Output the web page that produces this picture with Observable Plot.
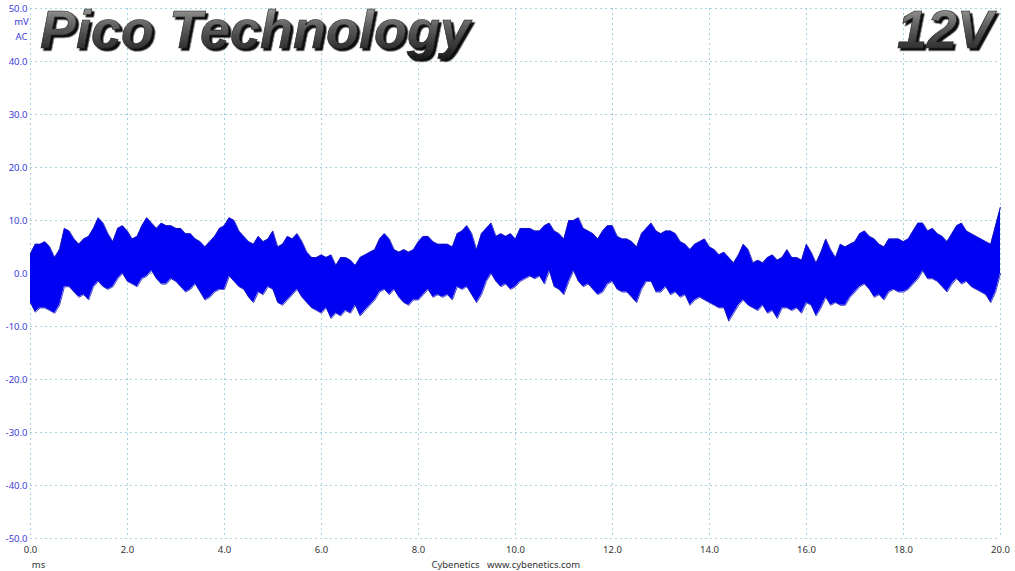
<!DOCTYPE html>
<html><head><meta charset="utf-8">
<script src="https://cdn.jsdelivr.net/npm/d3@7"></script>
<script src="https://cdn.jsdelivr.net/npm/@observablehq/plot@0.6"></script>
<style>
body{margin:0;background:#fff}
#wrap{position:relative;width:1015px;height:571px}
</style></head><body><div id="wrap"></div>
<script>
const titleText = "Pico Technology";
const railText = "12V";
const yUnitLines = ["mV", "AC"];
const xUnit = "ms";
const footer = "Cybenetics   www.cybenetics.com";
const xTicks = [0,2,4,6,8,10,12,14,16,18,20];
const yTicks = [-50,-40,-30,-20,-10,0,10,20,30,40,50];
const sampleStepMs = 0.1;
const upper = [
3.7,5.5,5.5,6.0,5.0,3.0,4.5,8.5,8.0,6.5, 5.5,6.5,7.0,8.5,10.5,9.5,7.5,6.0,8.5,9.0,
8.0,6.5,7.0,9.0,10.5,9.5,8.5,9.5,9.0,9.0, 8.5,8.5,7.5,7.5,6.5,6.0,5.0,6.0,7.0,8.5,
9.0,
10.5,10.0,8.0,7.0,6.0,5.5,7.0,6.0,6.5,8.0, 5.0,5.5,7.0,6.5,7.5,6.0,4.0,3.0,3.0,3.5,
3.0,3.5,1.5,3.0,3.0,2.5,1.5,3.0,3.5,4.0, 4.5,6.5,7.5,6.5,4.5,4.0,4.5,4.0,4.5,6.0,
7.0,7.0,6.0,5.5,5.5,5.5,5.0,7.5,8.0,9.0, 7.5,4.5,7.5,8.5,9.5,7.0,7.5,7.0,7.5,6.5,
8.5,8.5,8.5,8.0,8.0,9.0,9.5,8.0,7.5,6.5, 10.0,10.0,10.5,8.5,8.0,7.5,6.5,8.0,9.0,9.0,
7.0,6.5,6.5,6.0,5.0,7.5,8.5,9.5,8.0,7.5, 8.0,8.0,7.5,6.0,5.5,4.5,5.5,6.0,6.5,5.0,
4.5,3.5,4.0,3.0,2.0,3.5,5.5,4.5,2.0,2.5, 2.0,3.0,3.5,2.5,3.0,4.5,3.0,3.0,2.5,5.5,
4.0,2.0,4.0,6.5,4.5,3.0,5.5,5.0,5.5,6.0, 7.5,8.0,7.0,6.5,5.5,5.0,6.5,6.5,6.5,6.0,
6.5,8.0,9.5,9.5,8.0,8.5,7.5,7.0,6.0,7.5, 9.0,9.5,8.0,7.5,7.0,6.5,6.0,5.5,9.0,12.5
];
const lower = [
-5.5,-7.3,-6.5,-6.5,-7.0,-7.5,-6.0,-2.5,-2.5,-3.5, -4.5,-4.0,-5.0,-2.5,-1.5,-2.5,-3.0,-2.5,-1.0,0,
-1.5,-2.0,-2.5,-1.0,-0.5,0.5,-1.0,-2.0,-2.0,-1.0, -1.5,-2.5,-3.5,-3.0,-2.0,-3.5,-5.0,-4.5,-3.5,-3.0,
-3.0,
-0.5,-1.5,-2.5,-3.0,-4.5,-5.5,-3.5,-4.0,-2.5,-3.0, -5.5,-6.0,-5.0,-4.0,-3.0,-4.5,-5.5,-6.5,-7.0,-7.5,
-6.5,-8.5,-7.5,-8.0,-7.0,-7.5,-6.0,-8.0,-7.0,-6.0, -5.0,-3.5,-3.0,-4.0,-3.0,-4.5,-5.5,-6.0,-5.0,-5.0,
-4.0,-3.0,-4.5,-4.0,-4.5,-4.0,-5.0,-2.5,-3.0,-2.5, -4.0,-5.5,-4.0,-1.5,0,-1.5,-2.5,-2.0,-3.0,-2.5,
-1.5,-1.0,-0.5,-1.0,-0.5,-2.0,0.5,-2.5,-3.0,-4.0, -1.5,0.5,-1.5,-2.5,-2.0,-3.0,-4.0,-3.5,-2.0,-1.5,
-3.0,-3.5,-3.5,-4.5,-5.5,-3.0,-1.5,-1.5,-3.5,-3.5, -2.5,-4.0,-3.5,-4.5,-4.0,-6.0,-5.0,-4.5,-5.0,-5.5,
-6.0,-6.5,-6.5,-9.0,-7.5,-6.0,-5.0,-6.0,-6.5,-7.0, -6.0,-7.5,-7.0,-8.5,-6.5,-6.5,-7.0,-6.5,-7.5,-5.5,
-6.0,-8.0,-6.5,-4.5,-6.0,-5.5,-6.0,-6.0,-4.5,-3.5, -2.5,-2.0,-3.0,-4.5,-4.0,-5.0,-3.5,-3.0,-3.5,-3.5,
-3.0,-2.0,-1.0,0.5,-1.0,-1.0,-1.5,-2.5,-3.5,-2.0, -1.0,-2.0,-1.5,-2.5,-3.0,-3.5,-4.0,-5.5,-3.5,0
];

const data = upper.map((hi, i) => ({t: i * sampleStepMs, hi, lo: lower[i]}));
const font = "'Noto Sans', 'DejaVu Sans', sans-serif";
const gridColor = "#a6d2df";
const blueText = "#3a3ad8";

const chart = Plot.plot({
  width: 1015, height: 571,
  marginLeft: 30, marginRight: 15, marginTop: 8, marginBottom: 33,
  style: {fontFamily: font, fontSize: "9.5px", background: "#fff"},
  x: {domain: [0, 20]},
  y: {domain: [-50, 50]},
  marks: [
    Plot.gridX(xTicks, {stroke: gridColor, strokeOpacity: 1, strokeDasharray: "2,3"}),
    Plot.gridY(yTicks, {stroke: gridColor, strokeOpacity: 1, strokeDasharray: "2,3"}),
    Plot.areaY(data, {x: "t", y1: "lo", y2: "hi", fill: "#0000f2"}),
    Plot.lineY(data, {x: "t", y: "hi", stroke: "#1818b8", strokeWidth: 0.8}),
    Plot.lineY(data, {x: "t", y: "lo", stroke: "#1818b8", strokeWidth: 0.8}),
    Plot.axisY(yTicks, {tickSize: 0, tickPadding: 3, tickFormat: d => d.toFixed(1), fill: blueText, label: null}),
    Plot.axisX(xTicks, {tickSize: 0, tickPadding: 8, tickFormat: d => d.toFixed(1), fill: "#333", label: null}),
    Plot.text([yUnitLines[0]], {x: 0, y: 50, dx: -9, dy: 13, text: d => d, fill: blueText, textAnchor: "middle"}),
    Plot.text([yUnitLines[1]], {x: 0, y: 50, dx: -9, dy: 28, text: d => d, fill: blueText, textAnchor: "middle"}),
    Plot.text([xUnit], {x: 0, y: -50, dx: 8, dy: 26, text: d => d, fill: "#333"}),
    Plot.text([footer], {x: 9.8, y: -50, dy: 26, text: d => d, fill: "#333"})
  ]
});
document.getElementById("wrap").appendChild(chart);

// Title overlays with bevel-like shading
const svg = d3.select(chart);
const defs = svg.append("defs");
const g = defs.append("linearGradient").attr("id", "tgrad").attr("x1", 0).attr("y1", 0).attr("x2", 0).attr("y2", 1);
g.append("stop").attr("offset", "0%").attr("stop-color", "#b0b0b0");
g.append("stop").attr("offset", "45%").attr("stop-color", "#606060");
g.append("stop").attr("offset", "100%").attr("stop-color", "#1a1a1a");
const f = defs.append("filter").attr("id", "tshadow").attr("x", "-5%").attr("y", "-20%").attr("width", "110%").attr("height", "150%");
f.append("feDropShadow").attr("dx", 2.5).attr("dy", 2.5).attr("stdDeviation", 0.6).attr("flood-color", "#000").attr("flood-opacity", 0.95);
function title(txt, x, anchor) {
  svg.append("text")
    .attr("x", x).attr("y", 48)
    .attr("font-family", "'Liberation Sans', Arial, sans-serif")
    .attr("font-weight", "bold").attr("font-style", "italic").attr("font-size", "54px")
    .attr("text-anchor", anchor)
    .attr("fill", "url(#tgrad)").attr("stroke", "#222").attr("stroke-width", 0.6)
    .attr("filter", "url(#tshadow)")
    .text(txt);
}
title(titleText, 40, "start");
title(railText, 993, "end");
</script>
</body></html>
